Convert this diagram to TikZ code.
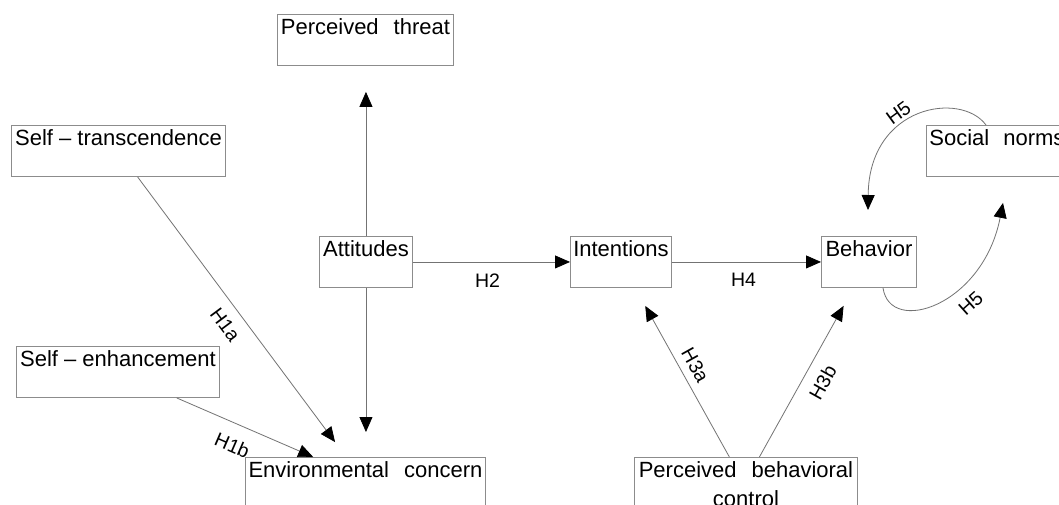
\documentclass[tikz,border=0pt]{standalone}
\usepackage{fontspec}
\setmainfont{Liberation Sans}
\usetikzlibrary{arrows.meta,calc}
\begin{document}
\begin{tikzpicture}[x=1pt,y=-1pt,
  box/.style={draw=black!45, line width=0.9pt, anchor=north west, inner xsep=0pt, inner ysep=0pt,
    text height=20.5pt, text depth=30.5pt, font=\fontsize{22}{29}\selectfont},
  conn/.style={draw=black!55, line width=0.8pt, -{Triangle[length=15pt,width=13pt,color=black]}},
  hlab/.style={font=\fontsize{19.5}{21}\selectfont, inner sep=2pt}]
\useasboundingbox (0,0) rectangle (1059,504);
\fill[white] (0,0) rectangle (1059,504);
\clip (0,0) rectangle (1059,504);

% boxes
\node[box, minimum width=176pt] (pt) at (277,14) {Perceived\hspace{15pt}threat};
\node[box, minimum width=214pt] (st) at (11,125) {Self -- transcendence};
\node[box, minimum width=93pt] (att) at (319,236) {Attitudes};
\node[box, minimum width=203pt] (se) at (16,346) {Self -- enhancement};
\node[box, minimum width=240pt] (ec) at (245,457) {Environmental\hspace{15pt}concern};
\node[box, minimum width=101pt] (int) at (570,236) {Intentions};
\node[box, minimum width=95pt] (beh) at (821,236) {Behavior};
\node[box, minimum width=141pt] (sn) at (926,125) {Social\hspace{14pt}norms};
\node[box, text width=223pt, align=center] (pbc) at (634,457) {Perceived\hspace{15pt}behavioral\\control};

% free ends of the H5 loops
\coordinate (h5top) at ($(beh.north west)+(47,-26)$);
\coordinate (h5bot) at ($(sn.south west)+(77,26)$);

% connectors
\draw[conn, shorten >=26pt] (att.north) -- (att.north |- pt.south);
\draw[conn, shorten >=25pt] (att.south) -- (att.south |- ec.north);
\draw[conn, shorten >=18.6pt] ($(st.south west)!0.589!(st.south east)$) --
  node[hlab, sloped, below=9pt, pos=0.49] (l1a) {H1a}
  ($(ec.north west)!0.42!(ec.north east)$);
\draw[conn] ($(se.south west)!0.788!(se.south east)$) --
  node[hlab, sloped, below=12pt, pos=0.47] (l1b) {H1b}
  ($(ec.north west)!0.283!(ec.north east)$);
\draw[conn] (att.east) -- node[hlab, below=9.5pt, pos=0.475] (l2) {H2} (int.west);
\draw[conn] (int.east) -- node[hlab, below=9pt, pos=0.48] (l4) {H4} (beh.west);
\draw[conn, shorten >=20.6pt] ($(pbc.north west)!0.426!(pbc.north east)$) --
  node[hlab, sloped, above=5.5pt, pos=0.5] (l3a) {H3a}
  ($(int.south west)!0.64!(int.south east)$);
\draw[conn, shorten >=20.6pt] ($(pbc.north west)!0.56!(pbc.north east)$) --
  node[hlab, sloped, below=9.5pt, pos=0.495] (l3b) {H3b}
  ($(beh.south west)!0.34!(beh.south east)$);
\draw[conn] ($(sn.north west)+(60,0)$) .. controls +(-25,-34) and +(1,-105) ..
  node[hlab, sloped, above=3pt, pos=0.58] (l5a) {H5} (h5top);
\draw[conn] ($(beh.south west)+(62,0)$) .. controls +(7,48) and +(-20,103) ..
  node[hlab, sloped, below=11pt, pos=0.62] (l5b) {H5} (h5bot);
\end{tikzpicture}
\end{document}
